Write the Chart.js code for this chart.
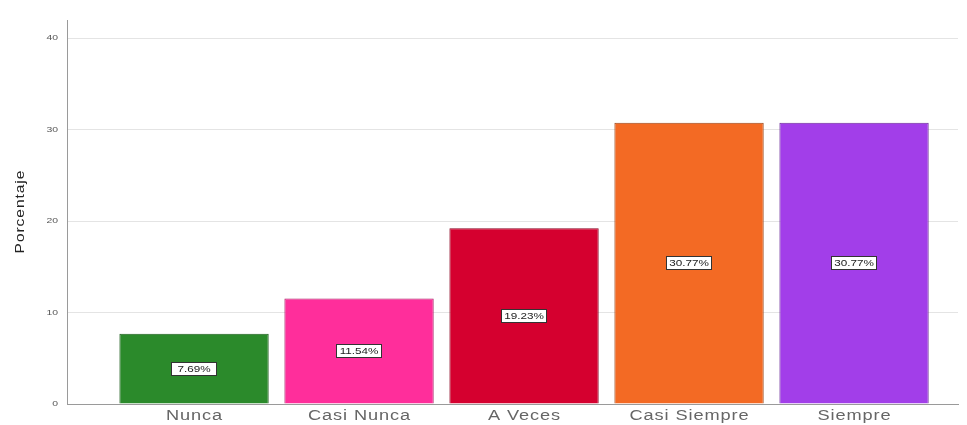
<!DOCTYPE html>
<html>
<head>
<meta charset="utf-8">
<script src="https://cdn.jsdelivr.net/npm/chart.js@4/dist/chart.umd.min.js"></script>
<style>
  html, body { margin: 0; padding: 0; background: #ffffff; }
  #wrap { width: 967px; height: 425px; position: relative; }
</style>
</head>
<body>
<div id="wrap"><canvas id="c"></canvas></div>
<script>
// Response categories and their percentages
const categories = ['Nunca', 'Casi Nunca', 'A Veces', 'Casi Siempre', 'Siempre'];
const percentages = [7.69, 11.54, 19.23, 30.77, 30.77];
const yTicks = [0, 10, 20, 30, 40];
const barColors = ['#2b8a2b', '#ff2e9b', '#d5002f', '#f36a24', '#a23ee9'];
const borderColors = ['#1d5c1d', '#a81d66', '#8a001f', '#9a4416', '#6a2898'];

const canvas = document.getElementById('c');
const ctx2d = canvas.getContext('2d');

// Wide, slightly spaced lettering for all chart text
const STRETCH = 1.3;
const baseFillText = ctx2d.fillText.bind(ctx2d);
ctx2d.fillText = function (text, x, y, maxWidth) {
  const m = /(\d+(?:\.\d+)?)px/.exec(this.font);
  const size = m ? parseFloat(m[1]) : 12;
  const spacing = size >= 12 ? 0.7 : 0;
  this.save();
  this.translate(x, y);
  this.scale(STRETCH, 1);
  this.letterSpacing = spacing + 'px';
  const shift = this.textAlign === 'center' ? spacing / 2 : (this.textAlign === 'right' ? spacing : 0);
  baseFillText(text, shift, 0);
  this.restore();
};

// Boxed percentage labels centred inside each bar
const valueBoxes = {
  id: 'valueBoxes',
  afterDatasetsDraw(chart) {
    const ctx = chart.ctx;
    const meta = chart.getDatasetMeta(0);
    ctx.save();
    ctx.font = '9px "Liberation Sans", Arial, sans-serif';
    ctx.textAlign = 'center';
    ctx.textBaseline = 'middle';
    meta.data.forEach((bar, i) => {
      const text = percentages[i].toFixed(2) + '%';
      const cx = bar.x;
      const cy = (bar.y + bar.base) / 2;
      const w = 46;
      const h = 14;
      const left = Math.round(cx - w / 2);
      const top = Math.round(cy - h / 2);
      ctx.fillStyle = '#ffffff';
      ctx.fillRect(left, top, w, h);
      ctx.strokeStyle = '#333333';
      ctx.lineWidth = 1;
      ctx.strokeRect(left + 0.5, top + 0.5, w - 1, h - 1);
      ctx.fillStyle = '#222222';
      ctx.fillText(text, cx, cy + 0.5);
    });
    ctx.restore();
  }
};

new Chart(canvas, {
  type: 'bar',
  data: {
    datasets: [{
      data: percentages.map((v, i) => ({ x: i, y: v })),
      backgroundColor: barColors,
      borderColor: borderColors,
      borderWidth: 1,
      barPercentage: 0.905,
      categoryPercentage: 1.0
    }]
  },
  options: {
    responsive: true,
    maintainAspectRatio: false,
    animation: false,
    layout: { padding: { top: 20, right: 9, left: 0, bottom: 0 } },
    plugins: { legend: { display: false }, tooltip: { enabled: false } },
    scales: {
      x: {
        type: 'linear',
        offset: false,
        min: -0.77,
        max: 4.63,
        afterBuildTicks(axis) { axis.ticks = categories.map((_, i) => ({ value: i })); },
        afterFit(axis) { axis.height = 21; },
        grid: { display: false, drawTicks: false },
        border: { display: true, color: '#9a9a9a', width: 1 },
        ticks: {
          autoSkip: false,
          maxRotation: 0,
          padding: 4,
          color: '#666666',
          font: { family: '"Liberation Sans", Arial, sans-serif', size: 14 },
          callback: (v) => categories[v] ?? ''
        }
      },
      y: {
        min: 0,
        max: 42,
        afterBuildTicks(axis) { axis.ticks = yTicks.map(v => ({ value: v })); },
        afterFit(axis) { axis.width = 67; },
        grid: { color: '#e4e4e4', drawTicks: false, lineWidth: 1 },
        border: { display: true, color: '#9a9a9a', width: 1 },
        ticks: {
          padding: 9,
          color: '#555555',
          font: { family: '"Liberation Sans", Arial, sans-serif', size: 8 }
        },
        title: {
          display: true,
          text: 'Porcentaje',
          color: '#222222',
          padding: { top: 13, bottom: 0 },
          font: { family: '"Liberation Sans", Arial, sans-serif', size: 12 }
        }
      }
    }
  },
  plugins: [valueBoxes]
});
</script>
</body>
</html>
